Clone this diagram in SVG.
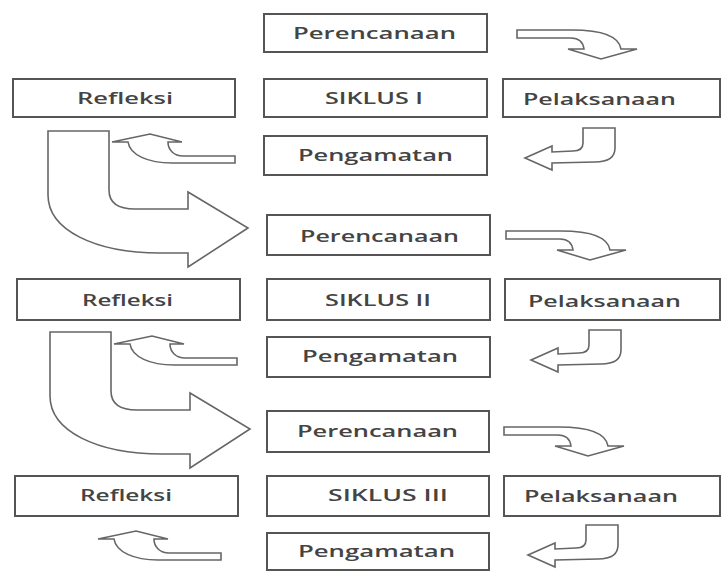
<svg xmlns="http://www.w3.org/2000/svg" xmlns:xlink="http://www.w3.org/1999/xlink" width="722" height="572" viewBox="0 0 722 572">
<style>
.box{fill:#fff;stroke:#555;stroke-width:2}
.arr{fill:#fff;stroke:#666;stroke-width:1.6;stroke-linejoin:miter}
.t{font-family:"Open Sans","Liberation Sans",sans-serif;font-size:16px;font-weight:600;fill:#444}
</style>
<defs>
<path id="aR" d="M517,30 L572,30 C603,30 619,37 621,49 L637,49 L601,59 L568,49 L584,49 C583,42 579,38 571,38 L517,38 Z"/>
<path id="aJ" d="M583,128 L615,128 L615,148 C615,158 608,162 595,162 L552,163 L552,170 L525,158 L552,146 L552,152 L573,151 C580,151 583,148 583,143 Z"/>
<path id="aC" d="M235,156 L183,156 C174,156 168,150 168,142 L182,142 L150,134 L112,142 L128,142 C130,155 148,163 172,163 L235,163 Z"/>
<path id="aU" d="M48,131 L109,131 L109,190 C109,203 118,209 135,209 L188,209 L188,192 L248,228 L188,267 L188,253 L160,253 C95,253 48,230 48,195 Z"/>
</defs>
<rect width="722" height="572" fill="#fff"/>
<g id="connectors">
<use xlink:href="#aR" class="arr"/>
<use xlink:href="#aJ" class="arr"/>
<use xlink:href="#aC" class="arr"/>
<use xlink:href="#aU" class="arr"/>
<use xlink:href="#aR" class="arr" transform="translate(-11,201)"/>
<use xlink:href="#aJ" class="arr" transform="translate(6,202)"/>
<use xlink:href="#aC" class="arr" transform="translate(2,202)"/>
<use xlink:href="#aU" class="arr" transform="translate(2,201)"/>
<use xlink:href="#aR" class="arr" transform="translate(-13,397)"/>
<use xlink:href="#aJ" class="arr" transform="translate(3,397)"/>
<use xlink:href="#aC" class="arr" transform="translate(-14,397)"/>
</g>
<g id="perencanaan1"><rect class="box" x="264" y="14" width="223" height="38"/><text class="t" x="293" y="39" textLength="163" lengthAdjust="spacingAndGlyphs">Perencanaan</text></g>
<g id="refleksi1"><rect class="box" x="13" y="79" width="222" height="38"/><text class="t" x="77" y="104" textLength="96" lengthAdjust="spacingAndGlyphs">Refleksi</text></g>
<g id="siklus1"><rect class="box" x="264" y="79" width="223" height="38"/><text class="t" x="325" y="104" textLength="98" lengthAdjust="spacingAndGlyphs">SIKLUS I</text></g>
<g id="pelaksanaan1"><rect class="box" x="503" y="79" width="217" height="38"/><text class="t" x="523" y="105" textLength="153" lengthAdjust="spacingAndGlyphs">Pelaksanaan</text></g>
<g id="pengamatan1"><rect class="box" x="264" y="136" width="223" height="39"/><text class="t" x="298" y="161" textLength="155" lengthAdjust="spacingAndGlyphs">Pengamatan</text></g>

<g id="perencanaan2"><rect class="box" x="267" y="215" width="223" height="40"/><text class="t" x="300" y="242" textLength="159" lengthAdjust="spacingAndGlyphs">Perencanaan</text></g>
<g id="refleksi2"><rect class="box" x="17" y="279" width="223" height="41"/><text class="t" x="82" y="306" textLength="91" lengthAdjust="spacingAndGlyphs">Refleksi</text></g>
<g id="siklus2"><rect class="box" x="267" y="279" width="223" height="41"/><text class="t" x="325" y="306" textLength="106" lengthAdjust="spacingAndGlyphs">SIKLUS II</text></g>
<g id="pelaksanaan2"><rect class="box" x="505" y="279" width="215" height="41"/><text class="t" x="528" y="307" textLength="153" lengthAdjust="spacingAndGlyphs">Pelaksanaan</text></g>
<g id="pengamatan2"><rect class="box" x="267" y="337" width="223" height="40"/><text class="t" x="302" y="362" textLength="156" lengthAdjust="spacingAndGlyphs">Pengamatan</text></g>

<g id="perencanaan3"><rect class="box" x="267" y="411" width="222" height="41"/><text class="t" x="297" y="437" textLength="161" lengthAdjust="spacingAndGlyphs">Perencanaan</text></g>
<g id="refleksi3"><rect class="box" x="15" y="476" width="223" height="40"/><text class="t" x="80" y="501" textLength="92" lengthAdjust="spacingAndGlyphs">Refleksi</text></g>
<g id="siklus3"><rect class="box" x="267" y="476" width="222" height="40"/><text class="t" x="328" y="501" textLength="120" lengthAdjust="spacingAndGlyphs">SIKLUS  III</text></g>
<g id="pelaksanaan3"><rect class="box" x="504" y="476" width="216" height="40"/><text class="t" x="524" y="502" textLength="154" lengthAdjust="spacingAndGlyphs">Pelaksanaan</text></g>
<g id="pengamatan3"><rect class="box" x="267" y="533" width="222" height="37"/><text class="t" x="298" y="557" textLength="157" lengthAdjust="spacingAndGlyphs">Pengamatan</text></g>
</svg>
